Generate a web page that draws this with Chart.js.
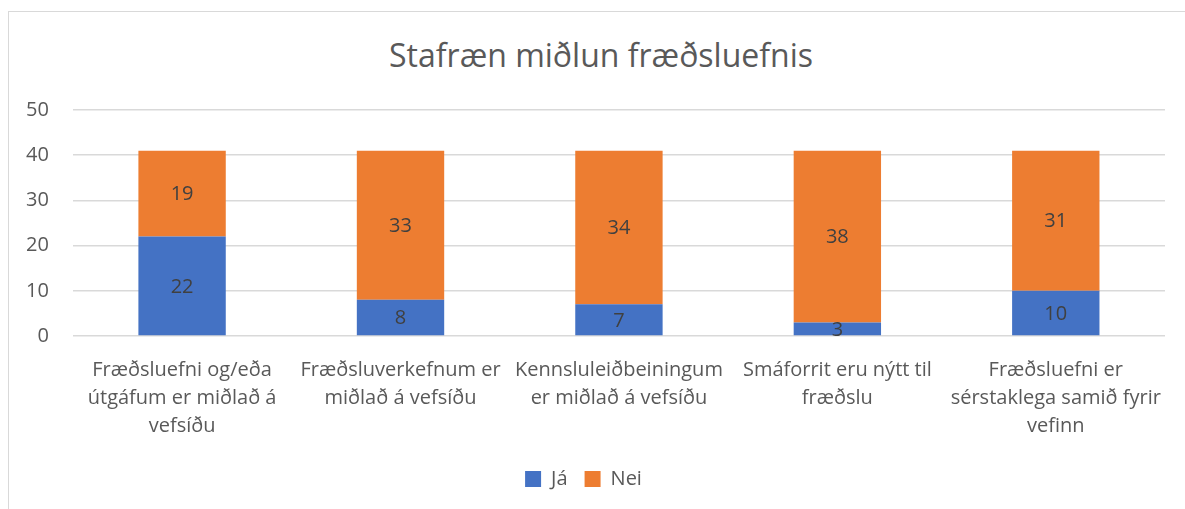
<!DOCTYPE html>
<html>
<head>
<meta charset="utf-8">
<script src="https://cdn.jsdelivr.net/npm/chart.js@4"></script>
<style>
  html, body { margin: 0; padding: 0; background: #fff; overflow: hidden; }
  #frame { position: absolute; left: 8px; top: 11px; width: 1200px; height: 520px; border: 1px solid #d9d9d9; }
  #wrap { position: absolute; left: 0; top: 0; width: 1185px; height: 509px; }
  #title { position: absolute; left: 0; top: 36px; width: 1202px; text-align: center;
           font: 32px/38px "Open Sans", sans-serif; color: #595959; }
</style>
</head>
<body>
<div id="frame"></div>
<div id="title">Stafræn miðlun fræðsluefnis</div>
<div id="wrap"><canvas id="chart" width="1185" height="509"></canvas></div>
<script>
const categories = [
  ['Fræðsluefni og/eða', 'útgáfum er miðlað á', 'vefsíðu'],
  ['Fræðsluverkefnum er', 'miðlað á vefsíðu'],
  ['Kennsluleiðbeiningum', 'er miðlað á vefsíðu'],
  ['Smáforrit eru nýtt til', 'fræðslu'],
  ['Fræðsluefni er', 'sérstaklega samið fyrir', 'vefinn']
];
const jaValues = [22, 8, 7, 3, 10];
const neiValues = [19, 33, 34, 38, 31];
const yTicks = [0, 10, 20, 30, 40, 50];

const FONT = '"Open Sans", sans-serif';

// draw the value labels in the middle of each bar segment
const barLabels = {
  id: 'barLabels',
  afterDatasetsDraw(chart) {
    const ctx = chart.ctx;
    ctx.save();
    ctx.font = '20px ' + FONT;
    ctx.fillStyle = '#404040';
    ctx.textAlign = 'center';
    ctx.textBaseline = 'middle';
    chart.data.datasets.forEach((ds, i) => {
      chart.getDatasetMeta(i).data.forEach((bar, j) => {
        const mid = (bar.y + bar.base) / 2;
        ctx.fillText(String(ds.data[j]), bar.x, mid + 1);
      });
    });
    ctx.restore();
  }
};

new Chart(document.getElementById('chart').getContext('2d'), {
  type: 'bar',
  data: {
    labels: categories,
    datasets: [
      { label: 'Já', data: jaValues, backgroundColor: '#4472C4' },
      { label: 'Nei', data: neiValues, backgroundColor: '#ED7D31' }
    ]
  },
  options: {
    responsive: false,
    animation: false,
    layout: { padding: { left: 2, right: 20, top: 110, bottom: 10 } },
    datasets: { bar: { categoryPercentage: 0.4, barPercentage: 1 } },
    scales: {
      x: {
        stacked: true,
        grid: { display: false },
        border: { display: false },
        ticks: { color: '#595959', font: { family: FONT, size: 20, lineHeight: 1.4 }, maxRotation: 0, padding: 12 }
      },
      y: {
        stacked: true,
        min: 0,
        max: 50,
        afterBuildTicks(axis) { axis.ticks = yTicks.map(v => ({ value: v })); },
        grid: { color: '#d9d9d9', lineWidth: 1.5, drawTicks: false },
        border: { display: false },
        ticks: { color: '#595959', font: { family: FONT, size: 20 }, padding: 24 }
      }
    },
    plugins: {
      title: { display: false },
      legend: {
        position: 'bottom',
        labels: { color: '#595959', font: { family: FONT, size: 20 }, boxWidth: 16, boxHeight: 16, padding: 17 }
      },
      tooltip: { enabled: false }
    }
  },
  plugins: [barLabels]
});
</script>
</body>
</html>
